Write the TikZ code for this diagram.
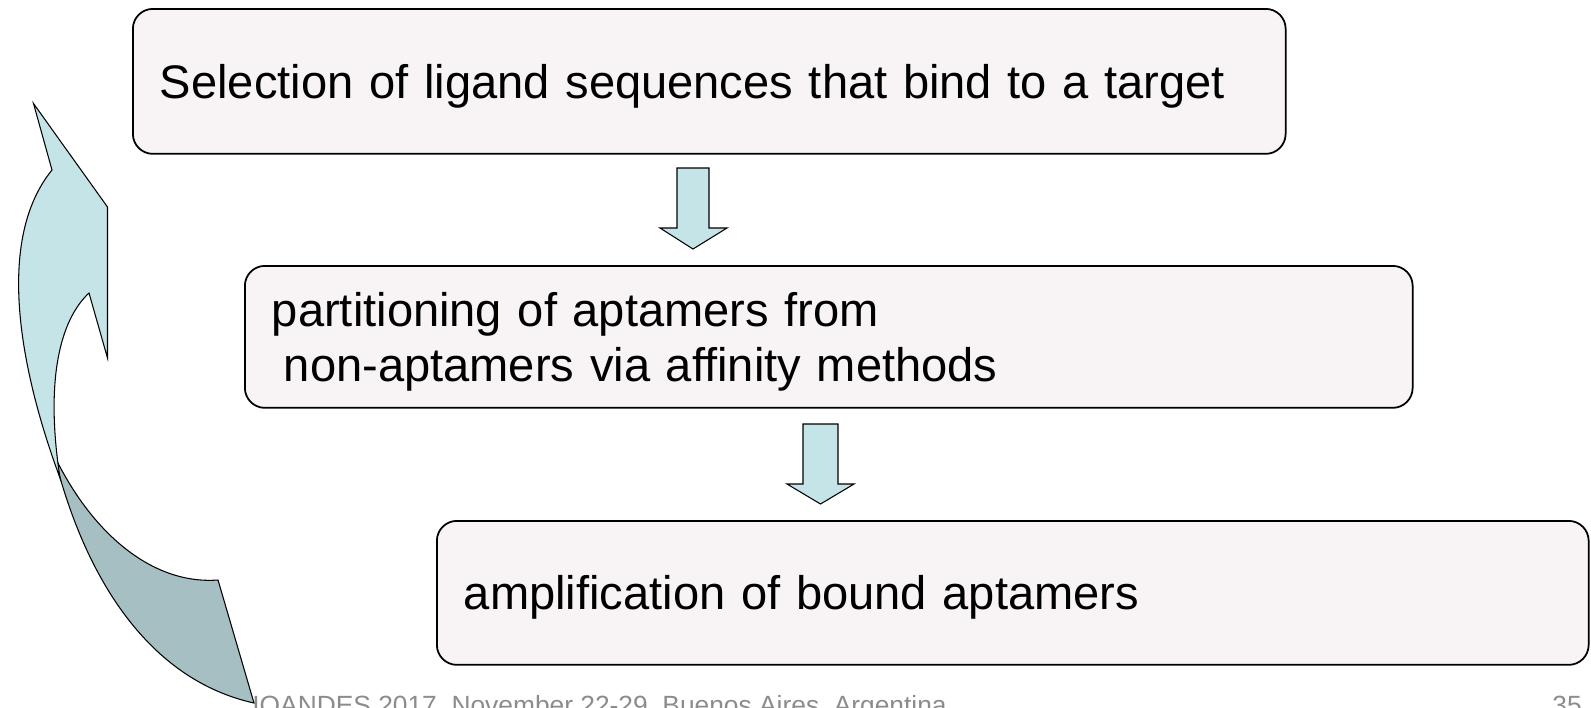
\documentclass[tikz,border=0pt]{standalone}
\usepackage{fontspec}
\setmainfont{Liberation Sans}
\definecolor{boxfill}{HTML}{F8F4F5}
\definecolor{arrowlight}{HTML}{C4E4E7}
\definecolor{arrowdark}{HTML}{A6BFC3}
\definecolor{footgray}{HTML}{8C8C8C}
\begin{document}
\begin{tikzpicture}[x=0.02cm,y=-0.02cm,
  stepbox/.style={draw, line width=1pt, rounded corners=0.4cm, fill=boxfill,
    anchor=north west, inner xsep=0.54cm, align=left, text depth=0pt,
    font=\fontsize{26.8}{31.2}\selectfont},
  blockarr/.style={draw, line width=0.6pt, fill=arrowlight},
  backarr/.style={draw, line width=0.6pt, fill=arrowdark},
  footer/.style={text=footgray, inner sep=0pt, font=\fontsize{15}{18}\selectfont}]
\useasboundingbox (0,0) rectangle (1591,707);
\clip (0,0) rectangle (1591,707);

\node[stepbox, minimum width=23.06cm, minimum height=2.9cm, text width=21.98cm] (select) at (132,8)
  {Selection of ligand sequences that bind to a target};
\node[stepbox, minimum width=23.36cm, minimum height=2.84cm, text width=22.28cm, text depth=31.2pt] (partition) at (244,265)
  {partitioning of aptamers from\\\hspace*{0.24cm}non-aptamers via affinity methods};
\node[stepbox, minimum width=23.04cm, minimum height=2.88cm, text width=21.96cm] (amplify) at (436,520)
  {amplification of bound aptamers};

% down arrows between the steps
\draw[blockarr] (677,168) -- (709,168) -- (709,228) -- (727,228) -- (693,249) -- (660,228) -- (677,228) -- cycle;
\draw[blockarr] (803,424) -- (838,424) -- (838,484) -- (854,484) -- (820.5,504) -- (787,484) -- (803,484) -- cycle;

\node[footer, anchor=base west] (event) at (252,714) {IOANDES 2017, November 22-29, Buenos Aires, Argentina};
\node[footer, anchor=base east] (page) at (1582,714) {35};

% curved arrow back to the first step
\draw[backarr] (54,455) .. controls (90,530) and (150,585) .. (218,580) -- (254,703)
  .. controls (150,680) and (85,580) .. (54,455) -- cycle;
\draw[blockarr] (33.5,103.5) -- (107.5,207) -- (107.5,358) -- (89,293)
  .. controls (60,320) and (45,380) .. (60,478)
  .. controls (20,370) and (-5,240) .. (52,170) -- cycle;
\end{tikzpicture}
\end{document}
